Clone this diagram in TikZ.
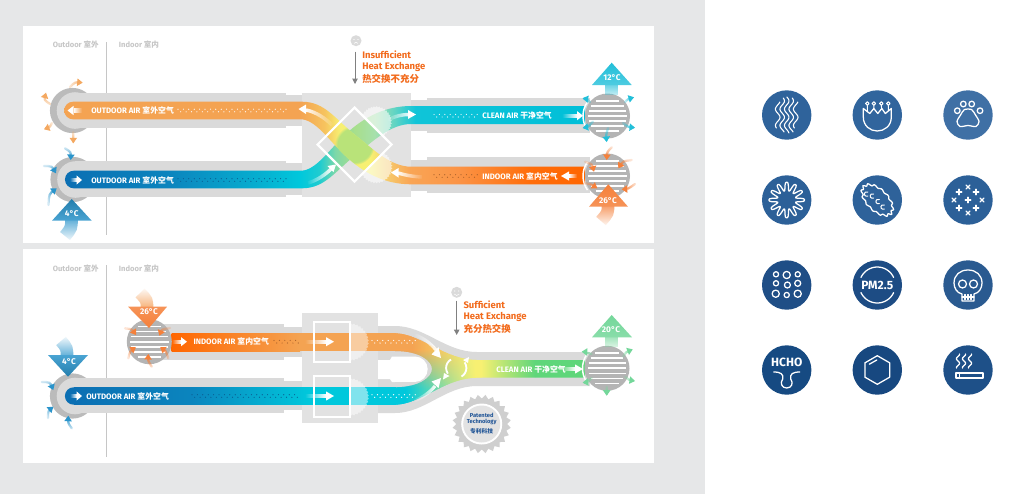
\documentclass[tikz,border=0pt]{standalone}
\usepackage{fontspec}
\setmainfont{Fira Sans}
\newfontfamily\cjk{Noto Sans CJK SC}
\usetikzlibrary{fadings,arrows.meta,calc}
\tikzfading[name=tailf,left color=transparent!0,right color=transparent!80]
\definecolor{ductg}{HTML}{DADADA}
\definecolor{boxg}{HTML}{E2E2E2}
\definecolor{ringg}{HTML}{BBBBBB}
\definecolor{grilleg}{HTML}{B4B4B4}
\definecolor{bgg}{HTML}{E6E7E8}
\definecolor{lblg}{HTML}{C6C6C6}
\definecolor{tOr}{HTML}{F26A1B}
\definecolor{gearb}{HTML}{1F5496}
\definecolor{aBlue}{HTML}{2A94CB}
\definecolor{aCyan}{HTML}{22BFD9}
\definecolor{aOr}{HTML}{F5803A}
\definecolor{aLo}{HTML}{F4A860}
\definecolor{aGr}{HTML}{74D79A}
\definecolor{bO}{HTML}{F4A352}
\definecolor{bY}{HTML}{F7F072}
\definecolor{bC}{HTML}{00C8DC}
\definecolor{bG}{HTML}{5FD67A}
\definecolor{dotbr}{HTML}{A8602A}
\definecolor{dotbl}{HTML}{0A5C90}
\definecolor{HTML1}{HTML}{F6C35E}
\definecolor{HTML2}{HTML}{F6CE6E}
\definecolor{HTML3}{HTML}{F9A555}
\definecolor{HTML4}{HTML}{FB9345}
\definecolor{HTML5}{HTML}{FF6D0A}
\definecolor{HTML6}{HTML}{FF6600}
\definecolor{T1}{HTML}{0B6FB3}
\definecolor{T2}{HTML}{0B85BE}
\definecolor{T3}{HTML}{06AFD0}
\definecolor{T4}{HTML}{00C8DC}
\definecolor{T5}{HTML}{20CCD0}
\definecolor{T6}{HTML}{7ED8A8}
\definecolor{T7}{HTML}{A8DF8C}
\definecolor{T8}{HTML}{A6E0AC}
\definecolor{T9}{HTML}{60D4C4}
\definecolor{T10}{HTML}{10C4D8}
\definecolor{T11}{HTML}{00BFD8}
\pgfdeclarehorizontalshading{bandOne}{100bp}{
 color(0bp)=(bO); color(25bp)=(bO); color(47.6bp)=(bO);
 color(50bp)=(HTML1); color(51.5bp)=(bY); color(54.4bp)=(bY);
 color(55.8bp)=(HTML2); color(58.2bp)=(HTML3); color(63bp)=(HTML4);
 color(69.7bp)=(HTML5); color(75bp)=(HTML6); color(100bp)=(HTML6)}
\pgfdeclarehorizontalshading{bandTwo}{100bp}{
 color(0bp)=(T1); color(25bp)=(T1); color(35.1bp)=(T2); color(43.75bp)=(T3);
 color(47.6bp)=(T4); color(49.5bp)=(T5); color(51bp)=(T6); color(52.9bp)=(T7);
 color(54.8bp)=(T8); color(56.7bp)=(T9); color(58.7bp)=(T10); color(75bp)=(T11); color(100bp)=(T11)}
\tikzset{
 lab/.style={inner sep=0pt,anchor=west,text=white,font=\fontsize{5.9}{7}\selectfont\bfseries},
 sidelab/.style={inner sep=0pt,text=lblg,font=\fontsize{5.7}{7}\selectfont\bfseries},
 head/.style={inner sep=0pt,anchor=west,text=tOr,font=\fontsize{7.1}{8}\selectfont\bfseries},
 temp/.style={inner sep=0pt,text=white,font=\fontsize{6.2}{7}\selectfont\bfseries},
 ic/.style={white,line width=.95pt,line cap=round,line join=round},
 icn/.style={inner sep=0pt,text=white,font=\fontsize{9}{10}\selectfont\bfseries},
}
\newcommand{\two}[2]{#1 {\cjk\bfseries #2}}
% small curved arrow: colour, tail, control, tip
\newcommand{\sa}[7]{%
 \pgfmathsetmacro\angx{atan2(#7-#5,#6-#4)}%
 \pgfmathsetmacro\angf{180-\angx}%
 \draw[#1,line width=1.7pt,line cap=round,path fading=tailf,fading angle=\angf] (#2,#3) .. controls (#4,#5) .. ($(#6,#7)!0.3!(#4,#5)$);
 \fill[#1,rotate around={-\angx:(#6,#7)}] (#6,#7) -- +(-5.5,-3.8) -- +(-5.5,3.8) -- cycle;
}
% straight white arrow: tail x, head base x, tip x, y
\newcommand{\wa}[4]{%
 \fill[white,path fading=\ifdim#3pt>#2pt west\else east\fi] (#1,#4-2.2) rectangle (#2,#4+2.2);
 \fill[white] (#2,#4-4.6) -- (#3,#4) -- (#2,#4+4.6) -- cycle;
}
\newcommand{\grille}[2]{%
 \fill[grilleg] (#1,#2) circle[radius=22.5];
 \foreach \d in {-15.3,-10.2,-5.1,0,5.1,10.2,15.3}{
  \pgfmathsetmacro\hw{sqrt(19.2*19.2-\d*\d)}
  \draw[white,line width=1.3pt] (#1-\hw,#2+\d) -- (#1+\hw,#2+\d);}
 \draw[white,line width=1.1pt] (#1,#2) ++(145:24.5) arc[start angle=145,end angle=215,radius=24.5];
}
\newcommand{\capend}[2]{%
 \fill[ringg] (#1,#2) circle[radius=22.6];
 \fill[ductg] (#1+2.5,#2) circle[radius=18.3];
}
\newcommand{\burst}[5]{%
 \fill[white,opacity=#5] plot[domain=0:360,samples=71] ({#1+(#3+1.4*mod(round(\x/5.1428),2))*cos(\x)},{#2+(#3+1.4*mod(round(\x/5.1428),2))*sin(\x)});
}
\newcommand{\dotrow}[5]{%
 \foreach \i in {0,...,#3}{
  \pgfmathsetmacro\xx{#1+\i*2.7}
  \pgfmathsetmacro\yy{#2+mod(\i,2)*2.6-1.3}
  \fill[#4] (\xx,\yy) circle[radius=#5];}
}
\begin{document}
\begin{tikzpicture}[x=.75pt,y=-.75pt]
\useasboundingbox (0,0) rectangle (1030,494);
\fill[white] (0,0) rectangle (1030,494);
\fill[bgg] (0,0) rectangle (705,494);
\fill[white] (23,26) rectangle (654,243);
\fill[white] (23,249) rectangle (654,463);
% ---- panel 1 chrome
\draw[lblg,line width=.8pt] (106.3,42) -- (106.3,235);
\node[sidelab,anchor=east] (o1) at (99,45) {\two{Outdoor}{室外}};
\node[sidelab,anchor=west] (i1) at (118.7,45) {\two{Indoor}{室内}};
% ducts
\capend{72.5}{110.5}
\capend{73}{179.5}
\fill[ductg] (76,93) rectangle (286,128);
\fill[ductg] (76,161) rectangle (286,197);
\fill[ductg] (286,95) rectangle (302,126);
\fill[ductg] (286,163) rectangle (302,195);
\fill[ductg] (411,100) rectangle (427,131);
\fill[ductg] (411,160) rectangle (427,191);
\fill[ductg] (427,97.7) rectangle (590,133.3);
\fill[ductg] (427,157.3) rectangle (590,193.3);
\fill[boxg] (302,93) rectangle (411,197);
% bands
\shade[shading=bandTwo] (73.75,170.7) -- (302,170.7) .. controls (318,169.3) and (332,145.3) .. (350,130.3) .. controls (365,117.3) and (385,106) .. (411,106) -- (585,106) -- (585,124) -- (411,124) .. controls (390,124) and (372,142.3) .. (357,153.8) .. controls (335,171.3) and (325,188.3) .. (302,188.3) -- (73.75,188.3) arc[start angle=90,end angle=270,radius=8.8] -- cycle;
\shade[shading=bandOne] (73,101.7) -- (302,101.7) .. controls (325,101.7) and (335,119) .. (357,136.5) .. controls (372,148) and (390,166.7) .. (411,166.7) -- (585,166.7) -- (585,184.3) -- (411,184.3) .. controls (385,184.3) and (365,173) .. (350,160) .. controls (332,145) and (318,121) .. (302,119.3) -- (73,119.3) arc[start angle=90,end angle=270,radius=8.8] -- cycle;
\begin{scope}
\clip (302,101.7) .. controls (325,101.7) and (335,119) .. (357,136.5) .. controls (372,148) and (390,166.7) .. (411,166.7) -- (411,184.3) .. controls (385,184.3) and (365,173) .. (350,160) .. controls (332,145) and (318,121) .. (302,119.3) -- cycle;
\fill[fill={rgb,255:red,160;green,222;blue,125},path fading=circle with fuzzy edge 15 percent,opacity=.7] (354.5,145) circle[radius=20];
\end{scope}
% bursts
\begin{scope}
\clip (354.5,107.5) -- (391.5,144.5) -- (440,144.5) -- (440,60) -- (354.5,60) -- cycle;
\burst{376}{122}{14.5}{}{.58}
\end{scope}
\begin{scope}
\clip (391.5,144.5) -- (354.5,181.5) -- (354.5,230) -- (440,230) -- (440,144.5) -- cycle;
\burst{376}{167}{15}{}{.58}
\end{scope}
\draw[white,line width=1.6pt,line join=miter] (354.5,107.5) -- (391.5,144.5) -- (354.5,181.5) -- (317.5,144.5) -- cycle;
% grilles p1
\grille{607.5}{116}
\grille{607.5}{176}
% labels p1
\node[lab] (t1) at (91,110.5) {\two{OUTDOOR AIR}{室外空气}};
\node[lab] (t2) at (91,180) {\two{OUTDOOR AIR}{室外空气}};
\node[lab] (t3) at (482,115.7) {\two{CLEAN AIR}{干净空气}};
\node[lab] (t4) at (482,176) {\two{INDOOR AIR}{室内空气}};
\dotrow{178}{110.5}{40}{white}{.6}
\dotrow{178}{180}{40}{dotbl}{.6}
\dotrow{434}{115.7}{16}{white}{.6}
\dotrow{434}{176}{16}{dotbr}{.6}
% straight white arrows p1
\wa{82}{73.5}{67.5}{110.5}
\wa{70}{76.5}{82}{180}
\wa{562}{577}{583}{115.7}
\wa{577}{569}{561}{176}
% curved white arrows p1
\draw[white,line width=2.6pt,path fading=east] (306,110) .. controls (316,112) and (325,118) .. (332,125);
\fill[white] (298.5,109) -- (306,104.5) -- (306,114) -- cycle;
\draw[white,line width=2.6pt,path fading=west] (308,183) .. controls (318,180) and (326,174) .. (331,169);
\fill[white] (336,164.5) -- (333.5,172) -- (327.5,166) -- cycle;
\draw[white,line width=2.6pt,path fading=west] (388,120) .. controls (395,116) and (402,114.5) .. (409,114.5);
\fill[white] (416,114.5) -- (408,110) -- (408,119) -- cycle;
\draw[white,line width=2.6pt,path fading=east] (398,173) .. controls (405,175) and (412,176.5) .. (422,177);
\fill[white] (391,172.5) -- (398.5,168) -- (398.5,177.5) -- cycle;
% big arrows p1
\draw[aBlue,line width=9.5pt,path fading=south] (71.5,218) .. controls (71.5,228) .. (65,236);
\shade[top color=aBlue!85!black,bottom color=aBlue!85!white] (71.7,199) -- (91.7,220.7) -- (52,220.7) -- cycle;
\node[temp] (c4) at (71.7,214) {4°C};
\draw[aCyan,line width=9.5pt,path fading=south] (611.7,83) -- (611.7,95);
\shade[top color=aCyan,bottom color=aCyan!80!white] (611.7,62.7) -- (631.7,85) -- (592,85) -- cycle;
\node[temp] (c12) at (612,78) {12°C};
\draw[aOr,line width=9.5pt,path fading=south] (608,205) .. controls (608,213) .. (601,221);
\shade[top color=aOr,bottom color=aOr!85!white] (608.3,184.3) -- (628,206.7) -- (589,206.7) -- cycle;
\node[temp] (c26) at (608,200.7) {26°C};
% small arrows p1
\sa{aLo}{70}{87}{75}{82}{82.7}{82.7}
\sa{aLo}{50}{104}{44}{100}{46}{92.7}
\sa{aLo}{52}{123}{50}{127}{44}{129.3}
\sa{aLo}{73.3}{132}{73.3}{138}{73.3}{143.3}
\sa{aBlue}{65}{148.3}{71}{152}{70.7}{160}
\sa{aBlue}{44}{166}{52}{166}{56}{173.3}
\sa{aBlue}{48.5}{205}{49}{194}{56.7}{188.3}
\sa{aCyan}{590}{102}{587}{99}{582.7}{98.3}
\sa{aCyan}{625}{102}{628}{99}{634}{97.3}
\sa{aCyan}{623}{123}{628}{127}{635}{127.7}
\sa{aCyan}{608}{128}{606}{135}{606.7}{142}
\sa{aCyan}{593}{121.7}{588}{127}{582.7}{128}
\sa{aOr}{611.7}{147.3}{607}{152}{606.7}{160}
\sa{aOr}{631.7}{160}{623}{161}{618.3}{168.3}
\sa{aOr}{585}{161.7}{592}{164}{594}{171.7}
\sa{aOr}{584}{183}{591}{184}{597.3}{188.3}
\sa{aOr}{635}{184}{628}{189}{621.7}{189.3}
% exchange note
\fill[ductg] (356,40.7) circle[radius=5.5];
\fill[white] (354,39.5) circle[radius=.6] (358,39.5) circle[radius=.6];
\draw[white,line width=.4pt] (354,43.4) .. controls (356,42) .. (358,43.4);
\coordinate (n1a) at (355,51.7);
\coordinate (n1b) at (355,84);
\draw[gray,line width=.7pt,-{Triangle[length=4,width=4]}] (n1a) -- (n1b);
\node[head] (h1) at (362,55) {Insufficient};
\node[head] (h2) at (362,66.7) {Heat Exchange};
\node[head] (h3) at (362,79) {\cjk\bfseries 热交换不充分};
% ---- panel 2
\draw[lblg,line width=.8pt] (106.3,265) -- (106.3,457);
\node[sidelab,anchor=east] (o2) at (99,268.5) {\two{Outdoor}{室外}};
\node[sidelab,anchor=west] (i2) at (118.7,268.5) {\two{Indoor}{室内}};
\capend{72.5}{396}
\fill[ductg] (155,324) rectangle (284,360);
\fill[ductg] (76,378) rectangle (284,413);
\fill[ductg] (284,327) rectangle (302,357);
\fill[ductg] (284,381) rectangle (302,410);
\fill[boxg] (302,313.3) rectangle (378,423.3);
\fill[ductg] (378,326) -- (395,326) .. controls (425,326) and (445,352) .. (477,352) -- (590,352) -- (590,386) -- (477,386) .. controls (445,386) and (425,413) .. (395,413) -- (378,413) -- cycle;
\fill[white] (378,360) -- (390,360) -- (392,356.5) -- (415,356.5) arc[start angle=-90,end angle=90,radius=12.7] -- (392,382) -- (390,379) -- (378,379) -- cycle;
% bars
\shade[left color=HTML6,right color=bO,middle color=bO!50!HTML6] (171.7,333.3) rectangle (300,351);
\fill[bO] (300,333.3) rectangle (396,351);
\shade[left color=T1,right color=T4,middle color=T2] (73.5,387.3) rectangle (310,404.7);
\fill[T1] (73.6,404.7) arc[start angle=90,end angle=270,radius=8.7] -- cycle;
\fill[T4] (310,387.3) rectangle (396,404.7);
\begin{scope}
\clip (395,333.3) .. controls (420,333.3) and (445,360) .. (477,360) -- (585,360) -- (585,377.7) -- (477,377.7) .. controls (445,377.7) and (420,404.7) .. (395,404.7) -- (395,387.3) .. controls (420,387.3) and (432,377) .. (432,369) .. controls (432,361) and (420,351) .. (395,351) -- cycle;
\foreach \xs in {394,...,480}{
 \pgfmathtruncatemacro\pa{max(0,min(100,100*(\xs-412)/58))}
 \pgfmathtruncatemacro\pb{max(0,min(100,100*(\xs-405)/70))}
 \colorlet{ct}{bY!\pa!bO}
 \colorlet{cb}{bY!\pb!bC}
 \colorlet{cm}{ct!50!cb}
 \fill[ct] (\xs,330) rectangle (\xs+1.6,350);
 \fill[cb] (\xs,388) rectangle (\xs+1.6,408);
 \shade[top color=ct,bottom color=cb,middle color=cm,shading angle=0] (\xs,349.5) rectangle (\xs+1.6,388.5);
}
\shade[left color=bY,right color=bG] (481,355) rectangle (535,382);
\fill[bG] (534.5,355) rectangle (590,382);
\end{scope}
% white frames and bursts
\begin{scope}
\clip (350,300) rectangle (420,430);
\burst{350}{342}{17.5}{}{.45}
\burst{350}{397}{17.5}{}{.5}
\end{scope}
\draw[white,line width=1.3pt] (314,321.7) rectangle (350,362.3);
\draw[white,line width=1.3pt] (314,376) rectangle (350,417.3);
\grille{149.3}{341.7}
\grille{607}{368.3}
% labels p2
\node[lab] (t5) at (193.3,341.7) {\two{INDOOR AIR}{室内空气}};
\node[lab] (t6) at (86,396) {\two{OUTDOOR AIR}{室外空气}};
\node[lab] (t7) at (496,369) {\two{CLEAN AIR}{干净空气}};
\dotrow{274}{341.7}{9}{dotbr}{.6}
\dotrow{192}{396}{39}{dotbl}{.6}
\dotrow{372}{341.7}{16}{white}{.65}
\dotrow{372}{396}{16}{white}{.65}
\wa{172}{181}{187}{341.7}
\wa{305}{326}{334}{341.7}
\wa{70}{76.5}{82}{396}
\wa{305}{326}{334}{396}
\wa{561}{575}{583}{369}
% curved arrows p2
\draw[white,line width=2.4pt,path fading=west] (415,335) .. controls (424,338) and (431,344) .. (436,350);
\fill[white] (441,358) -- (431.5,354.5) -- (438.5,347) -- cycle;
\draw[white,line width=2.4pt,path fading=west] (414,401) .. controls (424,397) and (431,391) .. (435,386);
\fill[white] (441,378) -- (438.5,388) -- (431.5,381.5) -- cycle;
\draw[white,line width=1.4pt] (451,359.5) arc[start angle=-120,end angle=-215,radius=9.8];
\fill[white] (444,373) -- (449.5,376) -- (443,379.5) -- cycle;
\draw[white,line width=1.4pt] (461.5,376.5) arc[start angle=60,end angle=-35,radius=9.8];
\fill[white] (468,363) -- (463,360) -- (469,357) -- cycle;
% big arrows p2
\draw[bO!70!aOr,line width=9.5pt,path fading=north] (147,309) .. controls (147,300) .. (140,293);
\shade[top color=aOr!85!white,bottom color=aOr] (128,306.7) -- (167,306.7) -- (149,328) -- cycle;
\node[temp] (c26b) at (149,312) {26°C};
\draw[aBlue,line width=9.5pt,path fading=north] (67,357) .. controls (67,348) .. (61,341);
\shade[top color=aBlue!85!white,bottom color=aBlue!85!black] (48,355) -- (88,355) -- (68,376.7) -- cycle;
\node[temp] (c4b) at (69,362) {4°C};
\draw[aGr,line width=9.5pt,path fading=south] (611.7,335) -- (611.7,347);
\shade[top color=aGr,bottom color=aGr!85!white] (611.7,315) -- (632,337.3) -- (592,337.3) -- cycle;
\node[temp] (c20) at (611,330) {20°C};
% small arrows p2
\sa{aBlue}{41.7}{382}{50}{382}{53.3}{390}
\sa{aBlue}{48}{418}{48}{411}{53.3}{406.7}
\sa{aBlue}{71.7}{428.3}{68}{423}{68.3}{415.7}
\sa{aOr}{125}{328.3}{132}{329}{136}{335}
\sa{aOr}{170}{328}{162}{329}{159.3}{335.7}
\sa{aOr}{128.3}{358.3}{130}{351}{136}{347.3}
\sa{aOr}{168.3}{358.3}{166}{351}{160}{347.3}
\sa{aOr}{151.7}{366.7}{148}{361}{148.3}{354}
\sa{aGr}{591.7}{354}{588}{352}{581.7}{351.7}
\sa{aGr}{623}{356.7}{626}{352}{632.7}{349.3}
\sa{aGr}{625}{376.7}{629}{380}{635}{381}
\sa{aGr}{606.7}{386.7}{606.7}{390}{606.7}{395.7}
\sa{aGr}{591.7}{378}{588}{382}{582.7}{382.7}
% note p2
\fill[ductg] (456.7,292.3) circle[radius=5.5];
\fill[white] (454.7,291) circle[radius=.6] (458.7,291) circle[radius=.6];
\draw[white,line width=.4pt] (454.2,294) .. controls (456.7,296) .. (459.2,294);
\coordinate (n2a) at (456.7,300.7);
\coordinate (n2b) at (456.7,335);
\draw[gray,line width=.7pt,-{Triangle[length=4,width=4]}] (n2a) -- (n2b);
\node[head] (h4) at (463.3,305) {Sufficient};
\node[head] (h5) at (463.3,316.7) {Heat Exchange};
\node[head] (h6) at (463.3,329) {\cjk\bfseries 充分热交换};
% gear
\fill[ductg!95!black] plot[domain=0:360,samples=49] ({481.7+(25.5+3.8*mod(round(\x/7.5),2))*cos(\x)},{424+(25.5+3.8*mod(round(\x/7.5),2))*sin(\x)}) -- cycle;
\fill[white] (481.7,424) circle[radius=20.5];
\fill[boxg] (481.7,424) circle[radius=18.5];
\node[inner sep=0pt,text=gearb,font=\fontsize{4.3}{5}\selectfont\bfseries] (g1) at (481.7,415.7) {Patented};
\node[inner sep=0pt,text=gearb,font=\fontsize{4.3}{5}\selectfont\bfseries] (g2) at (481.7,422.4) {Technology};
\node[inner sep=0pt,text=gearb,font=\fontsize{4.3}{5}\selectfont\cjk\bfseries] (g3) at (481.7,431) {专利科技};
% ---- icons
\fill[fill={rgb,255:red,47;green,99;blue,155}] (786.7,115) circle[radius=24.7];
\fill[fill={rgb,255:red,49;green,101;blue,157}] (877.3,115) circle[radius=24.7];
\fill[fill={rgb,255:red,63;green,112;blue,165}] (968,115) circle[radius=24.7];
\fill[fill={rgb,255:red,44;green,96;blue,152}] (786.7,200) circle[radius=24.7];
\fill[fill={rgb,255:red,46;green,98;blue,154}] (877.3,200) circle[radius=24.7];
\fill[fill={rgb,255:red,44;green,96;blue,152}] (968,200) circle[radius=24.7];
\fill[fill={rgb,255:red,31;green,78;blue,134}] (786.7,285) circle[radius=24.7];
\fill[fill={rgb,255:red,29;green,76;blue,132}] (877.3,285) circle[radius=24.7];
\fill[fill={rgb,255:red,42;green,90;blue,144}] (968,285) circle[radius=24.7];
\fill[fill={rgb,255:red,22;green,74;blue,130}] (786.7,370) circle[radius=24.7];
\fill[fill={rgb,255:red,23;green,72;blue,128}] (877.3,370) circle[radius=24.7];
\fill[fill={rgb,255:red,30;green,80;blue,136}] (968,370) circle[radius=24.7];
% 1 wavy
\begin{scope}[shift={(786.7,115)}]
\foreach \xo/\yr in {-9/13,-4.5/17,0/18,4.5/17,9/13}{
 \draw[ic,line width=.8pt] plot[smooth,domain=-\yr:\yr,samples=25] ({\xo+2.3*sin(22*\x+40)},{\x});}
\end{scope}
% 2 crown
\begin{scope}[shift={(877.3,115)}]
\draw[ic] (-14,-6.5) -- (-7.5,-1.5) -- (-3.5,-6.5) -- (.5,-1.5) -- (4.5,-6.5) -- (8,-1.5) -- (14,-6.5) -- (14,2) .. controls (14,11) and (7,16) .. (0,16) .. controls (-7,16) and (-14,11) .. (-14,2) -- cycle;
\foreach \xc in {-10,-3.5,4,11}{\draw[ic,line width=.8pt] (\xc,-11.5) circle[radius=1.8];}
\draw[ic,line width=.7pt] (-10,-9.7) -- (-10,-4) (-3.5,-9.7) -- (-3.5,-6.5) (4,-9.7) -- (4.3,-6.5) (11,-9.7) -- (11,-4);
\end{scope}
% 3 paw
\begin{scope}[shift={(968,115)}]
\foreach \xc/\yc in {-10.7/-4.3,-4.7/-11,3.7/-11,12/-4.3}{\draw[ic] (\xc,\yc) circle[radius=2.8];}
\draw[ic] plot[smooth cycle] coordinates {(-3.5,-5.5)(3.5,-5.5)(7.5,0)(11,6.5)(8,11.5)(0,10.5)(-8,11.5)(-11,6.5)(-7.5,0)};
\end{scope}
% 4 flower
\begin{scope}[shift={(786.7,200)}]
\draw[ic] plot[smooth cycle,domain=0:358,samples=145] ({(13.5+4.2*cos(12*\x)*(1.5-.5*cos(12*\x)*cos(12*\x)))*cos(\x)},{(13.5+4.2*cos(12*\x)*(1.5-.5*cos(12*\x)*cos(12*\x)))*sin(\x)});
\end{scope}
% 5 cell
\begin{scope}[shift={(877.3,200)}]
\draw[ic] plot[smooth cycle,domain=0:355,samples=72] ({(19*cos(\x)-10.5*sin(\x))*(1+.07*cos(14*\x))*.7071},{(19*cos(\x)+10.5*sin(\x))*(1+.07*cos(14*\x))*.7071});
\foreach \xc/\yc in {-9.5/-4,-3.7/-2,2/3.5,7/9}{\draw[ic,line width=.75pt] (\xc,\yc) arc[start angle=60,end angle=300,radius=2.3];}
\end{scope}
% 6 crosses
\begin{scope}[shift={(968,200)}]
\foreach \xc/\yc in {-9/-8,8/-8,0/0,-9/8,8/8}{\draw[ic] (\xc-2.8,\yc) -- (\xc+2.8,\yc) (\xc,\yc-2.8) -- (\xc,\yc+2.8);}
\foreach \xc/\yc in {0/-13,-14/0,14/0,0/13}{\draw[ic] (\xc-2,\yc-2) -- (\xc+2,\yc+2) (\xc-2,\yc+2) -- (\xc+2,\yc-2);}
\end{scope}
% 7 circles
\begin{scope}[shift={(786.7,285)}]
\foreach \xc/\yc/\rr in {-10.7/-10.7/2.6,0/-10/3.6,11/-10.7/2.6,-10.7/-1.7/2.6,.7/0/3,11/-1.7/3,-11/8.7/3.6,0/10/2.6,11/8.7/3.6}{\draw[ic] (\xc,\yc) circle[radius=\rr];}
\end{scope}
% 8 PM2.5
\begin{scope}[shift={(877.3,285)}]
\node[icn] (pm) at (0,0) {PM2.5};
\draw[ic] plot[smooth,domain=25:155,samples=20] ({18*cos(\x)},{-18*sin(\x)});
\draw[ic] plot[smooth,domain=205:335,samples=20] ({18*cos(\x)},{-18*sin(\x)});
\end{scope}
% 9 skull
\begin{scope}[shift={(968,285)}]
\draw[ic] (-6,16) -- (-6,9) .. controls (-11,8) and (-14,3) .. (-14,-2) .. controls (-14,-10) and (-8,-15) .. (0,-15) .. controls (8,-15) and (14,-10) .. (14,-2) .. controls (14,3) and (11,8) .. (6,9) -- (6,16) -- cycle;
\draw[ic] (-5.5,-1) circle[radius=4] (5.5,-1) circle[radius=4];
\draw[ic,line width=.8pt] (-6,12) -- (6,12) (-3,9.5) -- (-3,14.5) (0,9.5) -- (0,14.5) (3,9.5) -- (3,14.5);
\end{scope}
% 10 HCHO
\begin{scope}[shift={(786.7,370)}]
\node[icn] (hc) at (0,-8) {HCHO};
\draw[ic] (-13,2) .. controls (-6,2) and (-3,4) .. (-4,9) .. controls (-7,13) and (-5,18) .. (0,18) .. controls (5,18) and (7,13) .. (4,9) .. controls (3,4) and (6,2) .. (13,2);
\end{scope}
% 11 hexagon
\begin{scope}[shift={(877.3,370)}]
\draw[ic] (0,-14.3) -- (12.4,-7.15) -- (12.4,7.15) -- (0,14.3) -- (-12.4,7.15) -- (-12.4,-7.15) -- cycle;
\draw[ic] (-8,-5.8) -- (-.5,-10);
\end{scope}
% 12 smoke
\begin{scope}[shift={(968,370)}]
\draw[ic] (-12,3) rectangle (15,8);
\draw[ic] (-8.5,3) -- (-8.5,8);
\foreach \xo in {-10,-4,2}{
 \draw[ic] plot[smooth,domain=-16:-2,samples=15] ({\xo+1.6*sin(40*\x)},{\x});}
\end{scope}
\end{tikzpicture}
\end{document}
